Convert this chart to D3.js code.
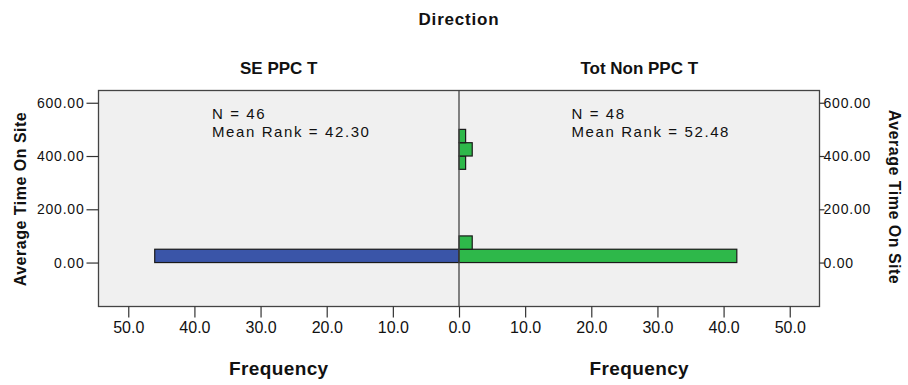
<!DOCTYPE html>
<html>
<head>
<meta charset="utf-8">
<title>Direction</title>
<script src="https://d3js.org/d3.v7.min.js"></script>
<style>
  body { margin: 0; background: #fff; }
  text { font-family: "Liberation Sans", Arial, sans-serif; fill: #111; }
  .ytick .tick text { font-size: 14px; letter-spacing: 0.8px; }
  .xtick .tick text { font-size: 16px; }
  .title { font-size: 17px; font-weight: bold; }
  .ytitle { font-size: 16px; font-weight: bold; letter-spacing: 0.5px; }
  .freq { font-size: 19px; font-weight: bold; letter-spacing: 0.4px; }
  .stat { font-size: 15px; letter-spacing: 1.6px; }
</style>
</head>
<body>
<div id="chart"></div>
<script>
// bins of Average Time On Site (lower edge, width 50)
var binStarts = [0, 50, 100, 150, 200, 250, 300, 350, 400, 450];
var binWidth = 50;
// frequencies per bin
var leftCounts  = [46, 0, 0, 0, 0, 0, 0, 0, 0, 0];   // SE PPC T
var rightCounts = [42, 2, 0, 0, 0, 0, 0, 1, 2, 1];   // Tot Non PPC T
var groupNames = ["SE PPC T", "Tot Non PPC T"];
var groupN = [46, 48];
var meanRanks = ["42.30", "52.48"];
var yTicks = [0, 200, 400, 600];
var xTicks = [0, 10, 20, 30, 40, 50];

var width = 908, height = 385;
// plot box (don't use "top" as a name, it's window.top)
var pL = 98.5, pR = 819.5, pT = 90.5, pB = 306.5, mid = 459;

const svg = d3.select("#chart").append("svg")
  .attr("width", width).attr("height", height);

var y = d3.scaleLinear().domain([-165, 646]).range([pB, pT]);
var xL = d3.scaleLinear().domain([0, 54.5]).range([mid, pL]);
var xR = d3.scaleLinear().domain([0, 54.5]).range([mid, pR]);

// plot background
svg.append("rect")
  .attr("x", pL).attr("y", pT)
  .attr("width", pR - pL).attr("height", pB - pT)
  .attr("fill", "#f0f0f0");

// bars
function bars(counts, xs, color, cls){
  var data = binStarts.map((b, i) => ({b: b, c: counts[i]})).filter(d => d.c > 0);
  svg.selectAll("." + cls).data(data).join("rect")
    .attr("class", cls)
    .attr("x", d => Math.min(xs(0), xs(d.c)))
    .attr("y", d => y(d.b + binWidth))
    .attr("width", d => Math.abs(xs(d.c) - xs(0)))
    .attr("height", d => y(d.b) - y(d.b + binWidth))
    .attr("fill", color)
    .attr("stroke", "#1a1a1a")
    .attr("stroke-width", 1.2);
}
bars(leftCounts, xL, "#3a55a8", "barL");
bars(rightCounts, xR, "#2eb84a", "barR");

// frame + center line
svg.append("rect")
  .attr("x", pL).attr("y", pT)
  .attr("width", pR - pL).attr("height", pB - pT)
  .attr("fill", "none").attr("stroke", "#444").attr("stroke-width", 1.3);
svg.append("line")
  .attr("x1", mid).attr("x2", mid).attr("y1", pT).attr("y2", pB)
  .attr("stroke", "#444").attr("stroke-width", 1.3);

// axes
function styleAxis(g){
  g.select(".domain").remove();
  g.selectAll(".tick line").attr("stroke", "#333").attr("stroke-width", 1.2);
  g.selectAll(".tick text").attr("fill", "#111");
}
svg.append("g").attr("class", "ytick").attr("transform", `translate(${pL},0)`)
  .call(d3.axisLeft(y).tickValues(yTicks).tickFormat(d3.format(".2f")).tickSize(12).tickPadding(2))
  .call(styleAxis);
svg.append("g").attr("class", "ytick").attr("transform", `translate(${pR},0)`)
  .call(d3.axisRight(y).tickValues(yTicks).tickFormat(d3.format(".2f")).tickSize(5).tickPadding(-1))
  .call(styleAxis);
svg.append("g").attr("class", "xtick").attr("transform", `translate(0,${pB})`)
  .call(d3.axisBottom(xL).tickValues(xTicks).tickFormat(d3.format(".1f")).tickSize(11).tickPadding(4))
  .call(styleAxis);
svg.append("g").attr("class", "xtick").attr("transform", `translate(0,${pB})`)
  .call(d3.axisBottom(xR).tickValues(xTicks.slice(1)).tickFormat(d3.format(".1f")).tickSize(11).tickPadding(4))
  .call(styleAxis);

// titles
svg.append("text").attr("class", "title").style("letter-spacing", "0.8px")
  .attr("x", mid).attr("y", 25).attr("text-anchor", "middle").text("Direction");
svg.append("text").attr("class", "title")
  .attr("x", (pL + mid) / 2).attr("y", 74).attr("text-anchor", "middle").text(groupNames[0]);
svg.append("text").attr("class", "title")
  .attr("x", (mid + pR) / 2).attr("y", 74).attr("text-anchor", "middle").text(groupNames[1]);

// frequency labels
svg.append("text").attr("class", "freq")
  .attr("x", (pL + mid) / 2).attr("y", 375).attr("text-anchor", "middle").text("Frequency");
svg.append("text").attr("class", "freq")
  .attr("x", (mid + pR) / 2).attr("y", 375).attr("text-anchor", "middle").text("Frequency");

// y titles
svg.append("text").attr("class", "ytitle")
  .attr("transform", `translate(26,199) rotate(-90)`)
  .attr("text-anchor", "middle").text("Average Time On Site");
svg.append("text").attr("class", "ytitle")
  .attr("transform", `translate(889,197) rotate(90)`)
  .attr("text-anchor", "middle").text("Average Time On Site");

// stats
var statX = [212, 571.5];
[0, 1].forEach(i => {
  svg.append("text").attr("class", "stat").attr("x", statX[i]).attr("y", 119).text("N = " + groupN[i]);
  svg.append("text").attr("class", "stat").attr("x", statX[i]).attr("y", 136.6).text("Mean Rank = " + meanRanks[i]);
});
</script>
</body>
</html>
